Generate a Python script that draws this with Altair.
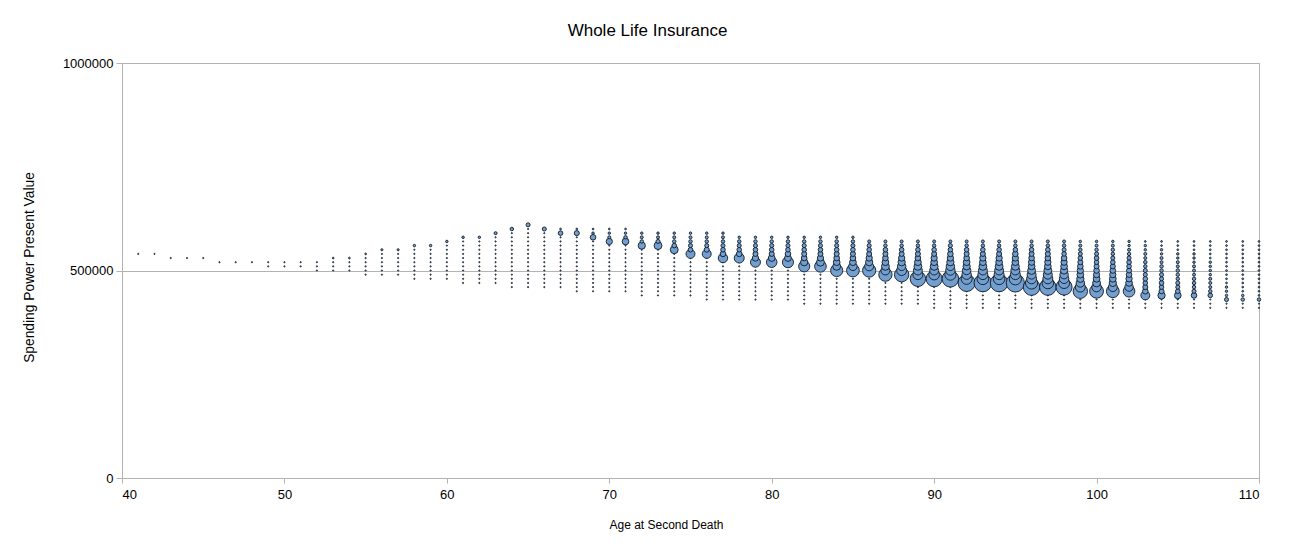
import altair as alt
import pandas as pd

TITLE = "Whole Life Insurance"
X_TITLE = "Age at Second Death"
Y_TITLE = "Spending Power Present Value"

X_TICKS = [40, 50, 60, 70, 80, 90, 100, 110]
Y_TICKS = [0, 500000, 1000000]

AGES = list(range(41, 111))
STEP = 10000  # value step between rows of a column

# lowest value of each column, in units of STEP
BOTTOM = [54, 54, 53, 53, 53, 52, 52, 52,
          51, 51, 51, 50, 50, 50, 49, 49, 49,
          48, 48, 48, 47, 47, 47,
          46, 46, 46, 46, 45, 45, 45, 45,
          44, 44, 44, 44, 43, 43, 43, 43, 43, 43,
          42, 42, 42, 42, 42, 42, 42, 42,
          41, 41, 41, 41, 41, 41, 41, 41, 41, 41, 41,
          41, 41, 41, 41, 41, 41, 41, 41, 41, 41]

# bubble weights of each column, from the lowest value upward
COUNTS = [
    [1],  # 41
    [1],  # 42
    [1],  # 43
    [1],  # 44
    [1],  # 45
    [1],  # 46
    [1],  # 47
    [1],  # 48
    [1, 1],  # 49
    [1, 1],  # 50
    [1, 1],  # 51
    [1, 1, 1],  # 52
    [1, 1, 1, 2],  # 53
    [1, 1, 1, 2],  # 54
    [1, 1, 1, 1, 1, 2],  # 55
    [1, 1, 1, 1, 1, 1, 3],  # 56
    [1, 1, 1, 1, 1, 1, 3],  # 57
    [1, 1, 1, 1, 1, 1, 1, 1, 4],  # 58
    [1, 1, 1, 1, 1, 1, 1, 1, 4],  # 59
    [1, 1, 1, 1, 1, 1, 1, 1, 1, 4],  # 60
    [1, 1, 1, 1, 1, 1, 1, 1, 1, 1, 1, 4],  # 61
    [1, 1, 1, 1, 1, 1, 1, 1, 1, 1, 1, 4],  # 62
    [1, 1, 1, 1, 1, 1, 1, 1, 1, 1, 1, 1, 6],  # 63
    [1, 1, 1, 1, 1, 1, 1, 1, 1, 1, 1, 1, 1, 1, 8],  # 64
    [1, 1, 1, 1, 1, 1, 1, 1, 1, 1, 1, 1, 1, 1, 1, 11],  # 65
    [1, 1, 1, 1, 1, 1, 1, 1, 1, 1, 1, 1, 1, 1, 11],  # 66
    [1, 1, 1, 1, 1, 1, 1, 1, 1, 1, 1, 1, 1, 14, 2],  # 67
    [1, 1, 1, 1, 1, 1, 1, 1, 1, 1, 1, 1, 1, 1, 17, 2],  # 68
    [1, 1, 1, 1, 1, 1, 1, 1, 1, 1, 1, 1, 1, 21, 4, 2],  # 69
    [1, 1, 1, 1, 1, 1, 1, 1, 1, 1, 1, 1, 26, 6, 4, 2],  # 70
    [1, 1, 1, 1, 1, 1, 1, 1, 1, 1, 1, 1, 30, 8, 4, 2],  # 71
    [1, 1, 1, 1, 1, 1, 1, 1, 1, 1, 1, 1, 35, 8, 6, 4],  # 72
    [1, 1, 1, 1, 1, 1, 1, 1, 1, 1, 1, 1, 41, 11, 6, 4],  # 73
    [1, 1, 1, 1, 1, 1, 1, 1, 1, 1, 1, 41, 14, 8, 6, 4],  # 74
    [1, 1, 1, 1, 1, 1, 1, 1, 1, 1, 53, 14, 11, 8, 6, 4],  # 75
    [1, 1, 1, 1, 1, 1, 1, 1, 1, 1, 1, 53, 17, 11, 8, 6, 4],  # 76
    [1, 1, 1, 1, 1, 1, 1, 1, 1, 1, 59, 21, 14, 11, 8, 6, 4],  # 77
    [1, 1, 1, 1, 1, 1, 1, 1, 1, 1, 66, 21, 14, 11, 8, 4],  # 78
    [1, 1, 1, 1, 1, 1, 1, 1, 1, 66, 26, 17, 14, 11, 8, 4],  # 79
    [1, 1, 1, 1, 1, 1, 1, 1, 1, 74, 30, 17, 14, 11, 8, 4],  # 80
    [1, 1, 1, 1, 1, 1, 1, 1, 1, 82, 30, 21, 14, 11, 8, 4],  # 81
    [1, 1, 1, 1, 1, 1, 1, 1, 1, 82, 35, 21, 17, 14, 11, 8, 4],  # 82
    [1, 1, 1, 1, 1, 1, 1, 1, 1, 90, 41, 26, 17, 14, 11, 8, 4],  # 83
    [1, 1, 1, 1, 1, 1, 1, 1, 99, 41, 30, 21, 17, 14, 11, 8, 4],  # 84
    [1, 1, 1, 1, 1, 1, 1, 1, 108, 47, 30, 21, 17, 14, 11, 8, 4],  # 85
    [1, 1, 1, 1, 1, 1, 1, 1, 117, 53, 35, 26, 17, 14, 11, 6],  # 86
    [1, 1, 1, 1, 1, 1, 1, 117, 53, 41, 30, 21, 17, 14, 8, 6],  # 87
    [1, 1, 1, 1, 1, 1, 1, 137, 66, 47, 35, 26, 17, 14, 8, 6],  # 88
    [1, 1, 1, 1, 1, 1, 158, 66, 53, 41, 30, 21, 17, 14, 8, 6],  # 89
    [1, 1, 1, 1, 1, 1, 1, 170, 74, 53, 41, 30, 26, 17, 14, 8, 6],  # 90
    [1, 1, 1, 1, 1, 1, 1, 181, 82, 59, 47, 35, 26, 21, 14, 11, 6],  # 91
    [1, 1, 1, 1, 1, 1, 194, 82, 59, 47, 35, 30, 21, 17, 14, 8, 6],  # 92
    [1, 1, 1, 1, 1, 1, 206, 90, 66, 53, 41, 30, 26, 17, 14, 8, 6],  # 93
    [1, 1, 1, 1, 1, 1, 206, 90, 66, 53, 41, 30, 26, 17, 14, 8, 6],  # 94
    [1, 1, 1, 1, 1, 1, 219, 99, 66, 53, 41, 30, 26, 21, 14, 8, 6],  # 95
    [1, 1, 1, 1, 1, 181, 99, 66, 53, 41, 30, 26, 21, 17, 14, 8, 6],  # 96
    [1, 1, 1, 1, 1, 181, 90, 66, 53, 41, 30, 26, 21, 17, 14, 8, 6],  # 97
    [1, 1, 1, 1, 1, 170, 82, 59, 47, 35, 30, 26, 21, 14, 11, 8, 6],  # 98
    [1, 1, 1, 1, 137, 66, 47, 35, 30, 26, 21, 17, 14, 11, 8, 6, 4],  # 99
    [1, 1, 1, 1, 127, 59, 41, 30, 26, 21, 17, 14, 14, 11, 8, 6, 4],  # 100
    [1, 1, 1, 1, 108, 53, 35, 30, 26, 21, 17, 14, 11, 8, 8, 6, 4],  # 101
    [1, 1, 1, 1, 90, 47, 30, 26, 21, 17, 14, 14, 11, 8, 6, 4, 4],  # 102
    [1, 1, 1, 53, 21, 17, 14, 14, 11, 11, 8, 8, 6, 6, 4, 4, 2],  # 103
    [1, 1, 1, 35, 17, 14, 14, 11, 11, 8, 8, 6, 6, 4, 4, 2, 2],  # 104
    [1, 1, 1, 30, 14, 11, 11, 8, 8, 8, 6, 6, 4, 4, 2, 2, 2],  # 105
    [1, 1, 1, 21, 11, 8, 8, 8, 6, 6, 6, 4, 4, 4, 2, 2, 2],  # 106
    [1, 1, 1, 14, 8, 6, 6, 6, 4, 4, 4, 4, 2, 2, 2, 2, 2],  # 107
    [1, 1, 11, 4, 4, 4, 2, 2, 2, 2, 2, 2, 2, 2, 2, 2, 2],  # 108
    [1, 1, 8, 4, 2, 2, 2, 2, 2, 2, 2, 2, 2, 2, 2, 2, 2],  # 109
    [1, 1, 8, 2, 2, 2, 2, 2, 2, 2, 2, 2, 2, 2, 2, 2, 2],  # 110
]

rows = []
for age, low, counts in zip(AGES, BOTTOM, COUNTS):
    for j, c in enumerate(counts):
        rows.append({"age": age, "value": (low + j) * STEP, "count": c})
df = pd.DataFrame(rows)

FONT = "Liberation Sans"
GRAY = "#b3b3b3"

chart = (
    alt.Chart(df)
    .mark_circle(fill="#729fcf", stroke="#111a24", strokeWidth=0.9, opacity=1)
    .encode(
        x=alt.X(
            "age:Q",
            scale=alt.Scale(domain=[40, 110], nice=False, zero=False),
            axis=alt.Axis(
                values=X_TICKS, title=X_TITLE, grid=False,
                tickSize=5, labelPadding=5,
                titleX=544, titleY=50, titleBaseline="alphabetic",
                titleAlign="center",
            ),
        ),
        y=alt.Y(
            "value:Q",
            scale=alt.Scale(domain=[0, 1000000], nice=False),
            axis=alt.Axis(
                values=Y_TICKS, format="d", title=Y_TITLE, grid=True,
                tickSize=6, labelPadding=3, titleFontSize=13.8,
                titleAngle=270, titleX=-89, titleY=204,
                titleBaseline="alphabetic", titleAlign="center",
            ),
        ),
        size=alt.Size(
            "count:Q",
            scale=alt.Scale(type="linear", domain=[0, 219], range=[0, 330]),
            legend=None,
        ),
    )
    .properties(
        width=1137,
        height=415,
        autosize="none",
        padding={"left": 114, "top": 55, "right": 29, "bottom": 66},
        title=alt.TitleParams(
            TITLE, font=FONT, fontSize=17, fontWeight="normal", color="black",
            anchor="middle", frame="group", dx=-43, offset=17,
        ),
    )
    .configure_view(stroke=GRAY, strokeWidth=1)
    .configure_axis(
        domainColor=GRAY, tickColor=GRAY, gridColor=GRAY,
        labelFont=FONT, labelFontSize=13, labelColor="black",
        titleFont=FONT, titleFontSize=12, titleFontWeight="normal", titleColor="black",
    )
)

chart.save("out.html", embed_options={"renderer": "svg", "actions": False})
